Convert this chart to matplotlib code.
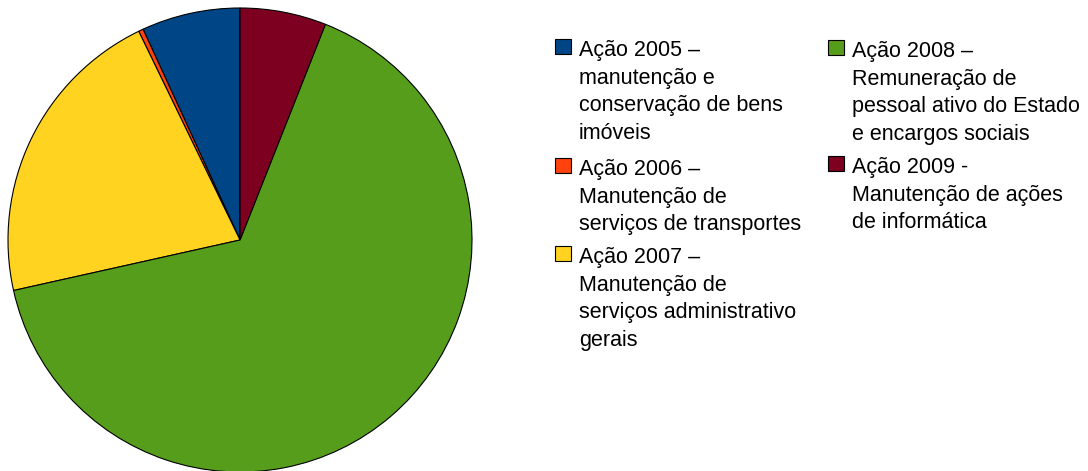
import matplotlib
matplotlib.use("Agg")
from matplotlib import pyplot as plt
from matplotlib.patches import Rectangle
from matplotlib.transforms import IdentityTransform

plt.rcParams['font.family'] = ['Liberation Sans', 'DejaVu Sans']

# share of each action (%)
acoes = ['Ação 2005 –\nmanutenção e\nconservação de bens\nimóveis',
         'Ação 2006 –\nManutenção de\nserviços de transportes',
         'Ação 2007 –\nManutenção de\nserviços administrativo\ngerais',
         'Ação 2008 –\nRemuneração de\npessoal ativo do Estado\ne encargos sociais',
         'Ação 2009 -\nManutenção de ações\nde informática']
valores = [6.86, 0.33, 21.3, 65.5, 6.0]
cores = ['#004586', '#ff420e', '#ffd320', '#579d1c', '#7e0021']

W, H = 1088, 471
fig = plt.figure(figsize=(W / 100, H / 100), dpi=100)

# pie centred at (240, 240) px with radius 232 px
ax = fig.add_axes([8 / W, (H - 240 - 232) / H, 464 / W, 464 / H])
ax.pie(valores, colors=cores, startangle=90, counterclock=True,
       wedgeprops=dict(edgecolor='black', linewidth=0.8))
ax.set_xlim(-1, 1)
ax.set_ylim(-1, 1)
ax.set_aspect('equal')
ax.axis('off')

# legend laid out by hand in pixel coords (y from top)
linha = 27.7
pos = [(555, 39), (555, 158), (555, 246), (828, 40), (828, 156)]
for (x, y), txt, c in zip(pos, acoes, cores):
    fig.patches.append(Rectangle((x, H - y - 15), 16, 15, facecolor=c,
                                 edgecolor='black', linewidth=0.8,
                                 transform=IdentityTransform(), figure=fig))
    for i, ln in enumerate(txt.split('\n')):
        fig.text(x + 24, H - (y + 17 + i * linha), ln, fontsize=15.5,
                 va='baseline', ha='left', transform=IdentityTransform())

fig.savefig('out.png', dpi=100)
